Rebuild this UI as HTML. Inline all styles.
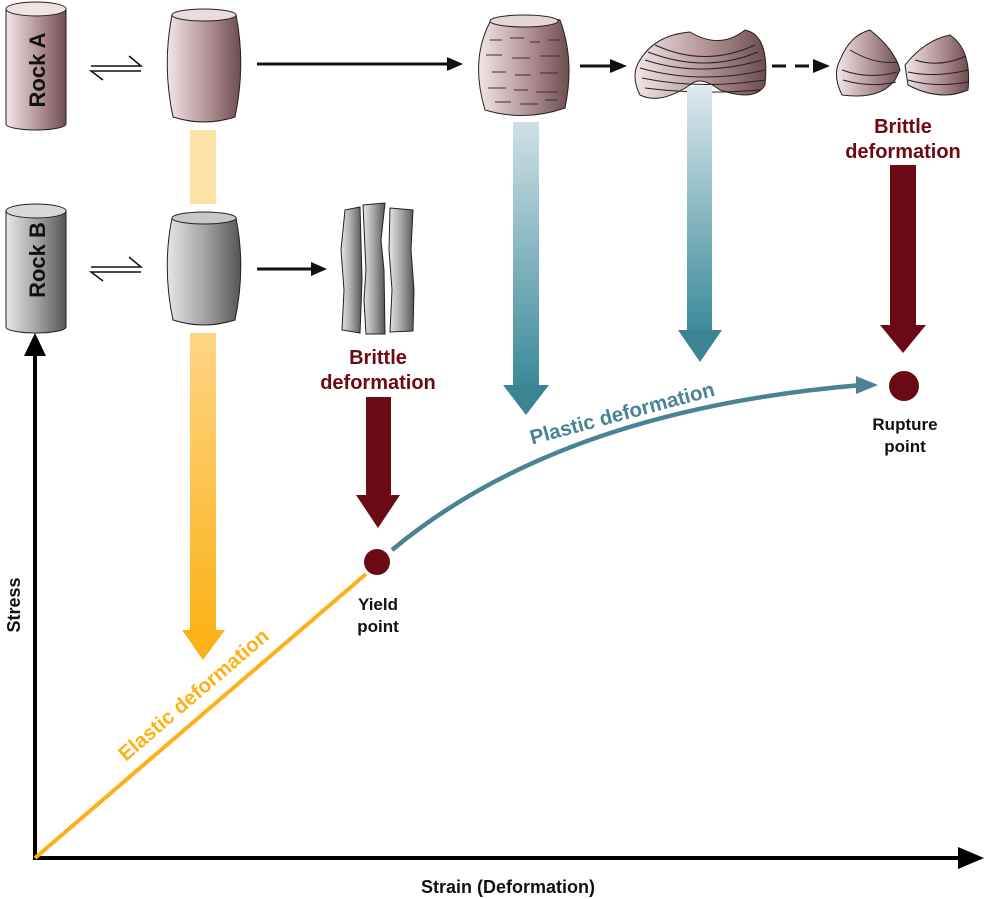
<!DOCTYPE html>
<html><head><meta charset="utf-8"><style>
html,body{margin:0;padding:0;background:#fff;}
svg{display:block;}
text{font-family:"Liberation Sans",Arial,sans-serif;font-weight:bold;}
</style></head><body>
<svg width="984" height="899" viewBox="0 0 984 899" xmlns="http://www.w3.org/2000/svg">
<defs>
<linearGradient id="ra" x1="0" x2="1"><stop offset="0" stop-color="#f2e6e8"/><stop offset="0.5" stop-color="#b89a9d"/><stop offset="1" stop-color="#6e4d51"/></linearGradient>
<linearGradient id="rb" x1="0" x2="1"><stop offset="0" stop-color="#e6e6e6"/><stop offset="0.5" stop-color="#a5a5a7"/><stop offset="1" stop-color="#555557"/></linearGradient>
<linearGradient id="yl" x1="0" y1="0" x2="0" y2="1"><stop offset="0" stop-color="#fde3a8"/><stop offset="1" stop-color="#fde3a8"/></linearGradient>
<linearGradient id="yb" x1="0" y1="0" x2="0" y2="1"><stop offset="0" stop-color="#fed584"/><stop offset="1" stop-color="#fcb21a"/></linearGradient>
<linearGradient id="t1" x1="0" y1="0" x2="0" y2="1"><stop offset="0" stop-color="#cfe0e6"/><stop offset="1" stop-color="#3a8a9a"/></linearGradient>
<linearGradient id="t2" x1="0" y1="0" x2="0" y2="1"><stop offset="0" stop-color="#dde9ee"/><stop offset="1" stop-color="#3a8a9a"/></linearGradient>
</defs>

<!-- Rock A -->
<path d="M6,9 L6,124 A30,6 0 0 0 66,124 L66,9 Z" fill="url(#ra)" stroke="#222" stroke-width="1"/>
<ellipse cx="36" cy="9" rx="30" ry="7" fill="#efe3e4" stroke="#222"/>
<text transform="translate(45,70) rotate(-90)" text-anchor="middle" font-size="22" fill="#111">Rock A</text>
<!-- Rock B -->
<path d="M6,211 L6,327 A30,6 0 0 0 66,327 L66,211 Z" fill="url(#rb)" stroke="#222"/>
<ellipse cx="36" cy="211" rx="30" ry="7" fill="#d8d8d8" stroke="#222"/>
<text transform="translate(45,260) rotate(-90)" text-anchor="middle" font-size="22" fill="#111">Rock B</text>

<g stroke="#111" stroke-width="1.5" fill="none">
<path d="M91,66 H141 L129,56"/><path d="M141,71 H91 L103,80"/>
<path d="M91,267 H141 L129,257"/><path d="M141,272 H91 L103,281"/>
</g>

<path d="M172,15 Q162,65 173,117 Q204,127 235,117 Q246,65 236,15 Z" fill="url(#ra)" stroke="#222"/>
<ellipse cx="204" cy="15" rx="32" ry="6" fill="#eadcdd" stroke="#222"/>
<path d="M172,218 Q162,268 173,320 Q204,330 235,320 Q246,268 236,218 Z" fill="url(#rb)" stroke="#222"/>
<ellipse cx="204" cy="218" rx="32" ry="6" fill="#c8c8c8" stroke="#222"/>

<g stroke="#111" stroke-width="3">
<line x1="257" y1="64" x2="452" y2="64"/>
<line x1="257" y1="269" x2="316" y2="269"/>
<line x1="580" y1="66" x2="615" y2="66"/>
<line x1="772" y1="66" x2="818" y2="66" stroke-dasharray="14,9"/>
</g>
<g fill="#111">
<path d="M447,57 L463,64 L447,71 Z"/>
<path d="M311,262 L327,269 L311,276 Z"/>
<path d="M610,59 L627,66 L610,73 Z"/>
<path d="M813,59 L830,66 L813,73 Z"/>
</g>

<g stroke="#222" fill="url(#rb)">
<path d="M345,210 L360,207 L362,280 L360,333 L342,330 L344,290 L341,250 Z"/>
<path d="M363,205 L385,203 L381,240 L384,270 L385,334 L366,334 L364,300 L366,270 Z"/>
<path d="M390,208 L413,210 L411,250 L414,290 L413,331 L390,332 L392,290 L389,250 Z"/>
</g>

<path d="M490,22 Q520,12 560,20 Q575,60 565,108 Q525,122 485,110 Q470,60 490,22 Z" fill="url(#ra)" stroke="#222"/>
<ellipse cx="524" cy="21" rx="34" ry="6" fill="#e6d6d8" stroke="#222"/>
<g stroke="#333" stroke-width="1">
<path d="M490,40 h12 M510,38 h14 M530,42 h10 M548,40 h12 M486,55 h16 M512,58 h18 M540,56 h20 M492,72 h14 M515,75 h16 M540,73 h18 M488,88 h18 M514,90 h14 M536,92 h22 M495,102 h16 M520,104 h18 M545,100 h12"/>
</g>

<path d="M640,60 Q655,35 690,32 Q720,50 745,30 Q770,35 765,85 Q755,102 720,90 Q700,75 690,85 Q660,105 640,95 Q630,75 640,60 Z" fill="url(#ra)" stroke="#222"/>
<g stroke="#222" fill="none" stroke-width="1"><path d="M640,68 Q700,85 765,70 M642,78 Q700,90 765,80 M645,88 Q700,95 760,90 M645,60 Q700,78 762,60 M655,45 Q705,68 755,45 M648,52 Q705,74 758,52"/></g>
<path d="M840,60 Q850,35 870,30 Q895,50 900,70 L895,80 Q880,100 842,95 Q832,75 840,60 Z" fill="url(#ra)" stroke="#222"/>
<path d="M905,65 Q925,40 950,35 Q972,50 968,90 Q940,102 908,85 Z" fill="url(#ra)" stroke="#222"/>
<g stroke="#222" fill="none"><path d="M842,70 Q870,80 897,72 M843,80 Q870,88 896,82 M850,50 Q875,65 898,62 M908,72 Q935,78 968,70 M908,80 Q935,88 968,82 M915,60 Q940,68 966,56"/></g>

<rect x="190" y="130" width="26" height="74" fill="url(#yl)"/>
<rect x="190" y="333" width="26" height="300" fill="url(#yb)"/>
<path d="M182,630 L225,630 L203,660 Z" fill="#fbb117"/>

<rect x="513" y="122" width="26" height="265" fill="url(#t1)"/>
<path d="M503,385 L549,385 L526,415 Z" fill="#3a8494"/>
<path d="M687,88 Q700,84 712,86 L712,332 L687,332 Z" fill="url(#t2)"/>
<path d="M678,330 L722,330 L700,362 Z" fill="#3a8494"/>

<rect x="890" y="165" width="26" height="162" fill="#6b0a14"/>
<path d="M880,325 L926,325 L903,353 Z" fill="#6b0a14"/>
<rect x="366" y="397" width="25" height="100" fill="#6b0a14"/>
<path d="M356,495 L400,495 L378,528 Z" fill="#6b0a14"/>

<text x="903" y="133" text-anchor="middle" font-size="20" fill="#6b0a14">Brittle</text>
<text x="903" y="158" text-anchor="middle" font-size="20" fill="#6b0a14">deformation</text>
<text x="378" y="364" text-anchor="middle" font-size="20" fill="#6b0a14">Brittle</text>
<text x="378" y="389" text-anchor="middle" font-size="20" fill="#6b0a14">deformation</text>

<line x1="35" y1="860" x2="35" y2="350" stroke="#000" stroke-width="4"/>
<path d="M24,356 L35,333 L46,356 Z" fill="#000"/>
<line x1="33" y1="858" x2="965" y2="858" stroke="#000" stroke-width="4"/>
<path d="M958,847 L984,858 L958,869 Z" fill="#000"/>

<line x1="35" y1="858" x2="366" y2="574" stroke="#fbb117" stroke-width="4"/>
<path d="M392,550 Q560,410 862,385" stroke="#4a8393" stroke-width="4.5" fill="none"/>
<path d="M856,376 L878,385 L856,394 Z" fill="#4a8393"/>
<circle cx="377" cy="562" r="13" fill="#6b0a14"/>
<circle cx="904" cy="386" r="15" fill="#6b0a14"/>

<text transform="translate(198,700) rotate(-40.6)" text-anchor="middle" font-size="20.5" fill="#fbb117">Elastic deformation</text>
<text transform="translate(624,420) rotate(-15)" text-anchor="middle" font-size="20.5" fill="#4a8393">Plastic deformation</text>

<text x="378" y="610" text-anchor="middle" font-size="17" fill="#111">Yield</text>
<text x="378" y="632" text-anchor="middle" font-size="17" fill="#111">point</text>
<text x="905" y="430" text-anchor="middle" font-size="17" fill="#111">Rupture</text>
<text x="905" y="452" text-anchor="middle" font-size="17" fill="#111">point</text>

<text transform="translate(20,605) rotate(-90)" text-anchor="middle" font-size="18" fill="#111">Stress</text>
<text x="508" y="893" text-anchor="middle" font-size="18" fill="#111">Strain (Deformation)</text>
</svg>
</body></html>
